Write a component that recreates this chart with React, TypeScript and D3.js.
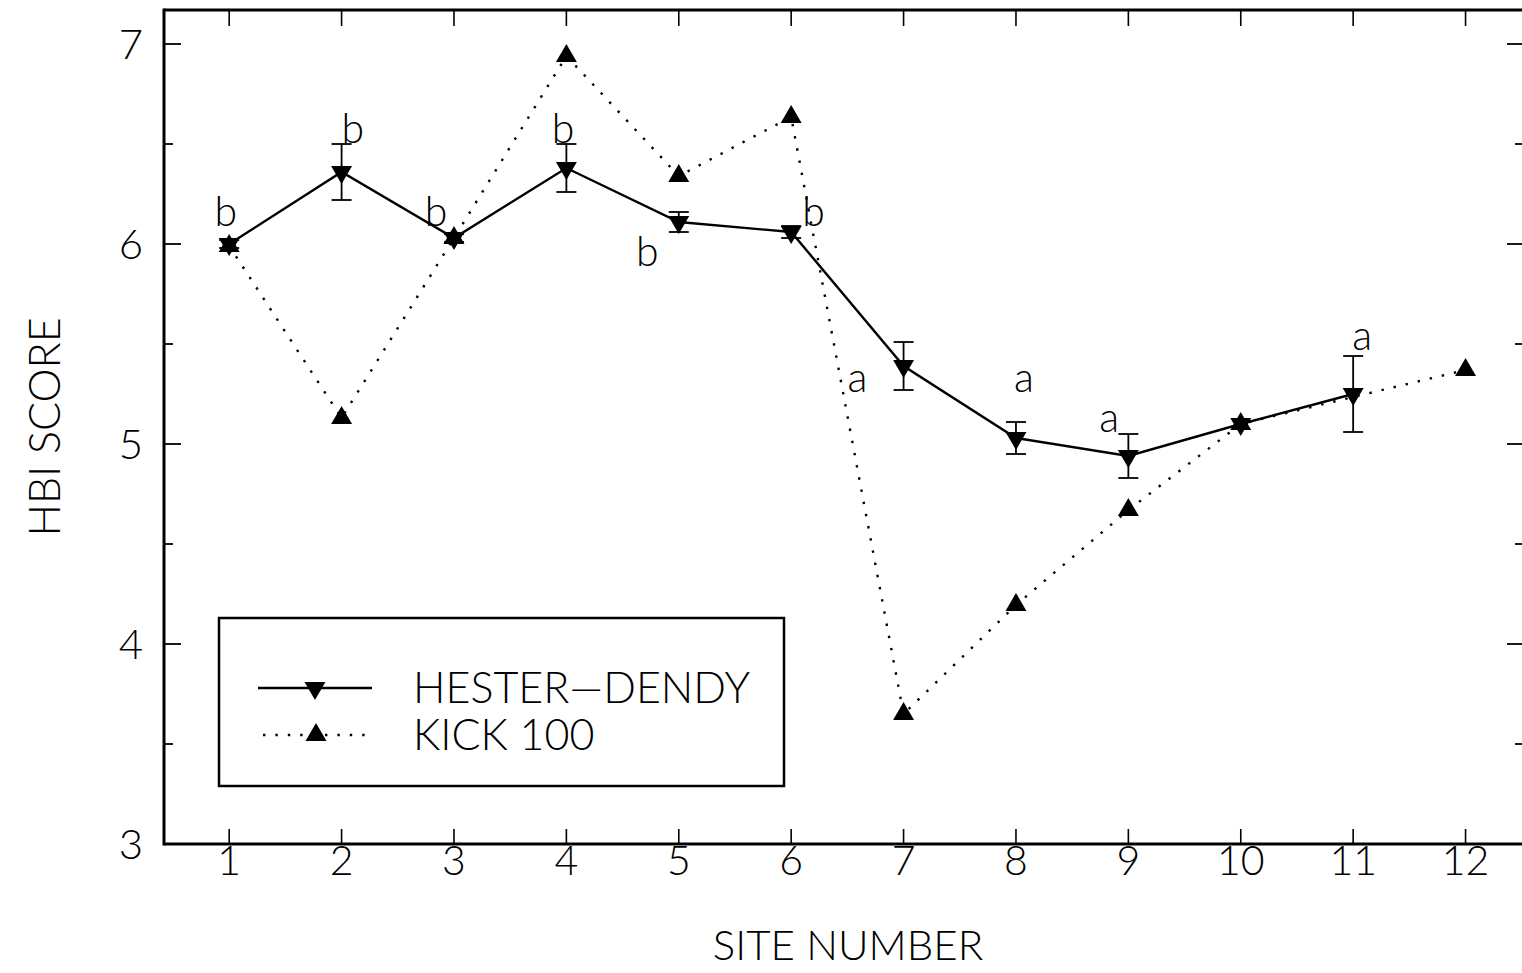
import React from "react";
import * as d3 from "d3";

// Site numbers along the x axis
const sites = [1, 2, 3, 4, 5, 6, 7, 8, 9, 10, 11, 12];

// Hester-Dendy sampler: mean HBI score and standard error per site (null = no sample)
const hesterDendyMean: (number | null)[] = [6.0, 6.36, 6.03, 6.38, 6.11, 6.06, 5.39, 5.03, 4.94, 5.1, 5.25, null];
const hesterDendyErr: (number | null)[] = [0.02, 0.14, 0.02, 0.12, 0.05, 0.03, 0.12, 0.08, 0.11, 0.0, 0.19, null];

// Kick-net (100 organism) HBI score per site
const kick100: (number | null)[] = [5.99, 5.13, 6.03, 6.94, 6.34, 6.635, 3.65, 4.195, 4.67, 5.1, null, 5.37];

// Significance group letters and their anchor in data units (site, score at baseline)
const groupLetters = ["b", "b", "b", "b", "b", "b", "a", "a", "a", "a"];
const letterSite = [0.97, 2.1, 2.84, 3.97, 4.72, 6.2, 6.59, 8.07, 8.83, 11.08];
const letterScore = [6.09, 6.505, 6.09, 6.505, 5.89, 6.09, 5.26, 5.26, 5.06, 5.47];

const yMajor = [3, 4, 5, 6, 7];
const yMinor = [3.5, 4.5, 5.5, 6.5];

const W = 1522;
const H = 973;
const FONT = "Lato, 'DejaVu Sans', sans-serif";

export default function App() {
  const x = d3.scaleLinear().domain([0.42, 12.52]).range([164, 1524]);
  const y = d3.scaleLinear().domain([3, 7.17]).range([844, 10]);

  const [x0, x1] = x.range();
  const [yb, yt] = y.range();

  const hdPts = sites
    .map((s, i) => ({ s, v: hesterDendyMean[i], e: hesterDendyErr[i] }))
    .filter((d) => d.v != null) as { s: number; v: number; e: number }[];
  const kPts = sites
    .map((s, i) => ({ s, v: kick100[i] }))
    .filter((d) => d.v != null) as { s: number; v: number }[];

  const line = d3
    .line<{ s: number; v: number }>()
    .x((d) => x(d.s))
    .y((d) => y(d.v));

  const tri = d3.symbol(d3.symbolTriangle, 190)() as string;

  const dotted = { strokeDasharray: "2.4 10", strokeWidth: 2.4, strokeLinecap: "butt" as const };

  return (
    <svg
      width={W}
      height={H}
      style={{ position: "absolute", left: 0, top: 0, background: "#fff" }}
      fontFamily={FONT}
    >
      <rect x={0} y={0} width={W} height={H} fill="#fff" />

      {/* frame */}
      <line x1={x0} x2={x0} y1={yt - 1.5} y2={yb + 1.5} stroke="#000" strokeWidth={3} />
      <line x1={x0} x2={x1} y1={yb} y2={yb} stroke="#000" strokeWidth={3} />
      <line x1={x0} x2={x1} y1={yt} y2={yt} stroke="#000" strokeWidth={3} />
      <line x1={x1} x2={x1} y1={yt} y2={yb} stroke="#000" strokeWidth={3} />

      {/* x ticks top and bottom */}
      {sites.map((s) => (
        <g key={"xt" + s}>
          <line x1={x(s)} x2={x(s)} y1={yb} y2={yb - 15} stroke="#000" strokeWidth={1.6} />
          <line x1={x(s)} x2={x(s)} y1={yt} y2={yt + 16} stroke="#000" strokeWidth={1.6} />
          <text x={x(s)} y={yb + 31} fontSize={41} fontWeight={300} textAnchor="middle">
            {s}
          </text>
        </g>
      ))}

      {/* y ticks left and right */}
      {yMajor.map((v) => (
        <g key={"ym" + v}>
          <line x1={x0} x2={x0 + 17} y1={y(v)} y2={y(v)} stroke="#000" strokeWidth={1.8} />
          <line x1={x1} x2={x1 - 17} y1={y(v)} y2={y(v)} stroke="#000" strokeWidth={1.8} />
          <text x={143} y={y(v) + 15} fontSize={42} fontWeight={300} textAnchor="end">
            {v}
          </text>
        </g>
      ))}
      {yMinor.map((v) => (
        <g key={"yn" + v}>
          <line x1={x0} x2={x0 + 9} y1={y(v)} y2={y(v)} stroke="#000" strokeWidth={1.8} />
          <line x1={x1} x2={x1 - 9} y1={y(v)} y2={y(v)} stroke="#000" strokeWidth={1.8} />
        </g>
      ))}

      {/* axis titles */}
      <text x={848} y={960} fontSize={42} fontWeight={300} textAnchor="middle">
        SITE NUMBER
      </text>
      <text
        transform={`translate(60, ${(yt + yb) / 2}) rotate(-90)`}
        fontSize={43}
        fontWeight={300}
        textAnchor="middle"
      >
        HBI SCORE
      </text>

      {/* Kick 100 series */}
      <path d={line(kPts) as string} fill="none" stroke="#000" {...dotted} />

      {/* Hester-Dendy series with error bars */}
      <path d={line(hdPts) as string} fill="none" stroke="#000" strokeWidth={2.4} />
      {hdPts.map((d) =>
        d.e > 0 ? (
          <g key={"eb" + d.s} stroke="#000" strokeWidth={1.8}>
            <line x1={x(d.s)} x2={x(d.s)} y1={y(d.v - d.e)} y2={y(d.v + d.e)} />
            <line x1={x(d.s) - 10} x2={x(d.s) + 10} y1={y(d.v - d.e)} y2={y(d.v - d.e)} />
            <line x1={x(d.s) - 10} x2={x(d.s) + 10} y1={y(d.v + d.e)} y2={y(d.v + d.e)} />
          </g>
        ) : null
      )}

      {kPts.map((d) => (
        <path key={"km" + d.s} d={tri} transform={`translate(${x(d.s)},${y(d.v)})`} fill="#000" />
      ))}
      {hdPts.map((d) => (
        <path
          key={"hm" + d.s}
          d={tri}
          transform={`translate(${x(d.s)},${y(d.v)}) rotate(180)`}
          fill="#000"
        />
      ))}

      {/* group letters */}
      {groupLetters.map((l, i) => (
        <text
          key={"gl" + i}
          x={x(letterSite[i])}
          y={y(letterScore[i])}
          fontSize={41}
          fontWeight={300}
          textAnchor="middle"
        >
          {l}
        </text>
      ))}

      {/* legend */}
      <g>
        <rect x={219} y={618} width={565} height={168} fill="#fff" stroke="#000" strokeWidth={2.5} />
        <line x1={258} x2={372} y1={688} y2={688} stroke="#000" strokeWidth={2.4} />
        <path d={tri} transform="translate(315,688) rotate(180)" fill="#000" />
        <text x={413} y={703} fontSize={43} fontWeight={300}>
          HESTER—DENDY
        </text>
        <line x1={263} x2={372} y1={735} y2={735} stroke="#000" {...dotted} />
        <path d={tri} transform="translate(316,735)" fill="#000" />
        <text x={413} y={750} fontSize={43} fontWeight={300}>
          KICK 100
        </text>
      </g>
    </svg>
  );
}
